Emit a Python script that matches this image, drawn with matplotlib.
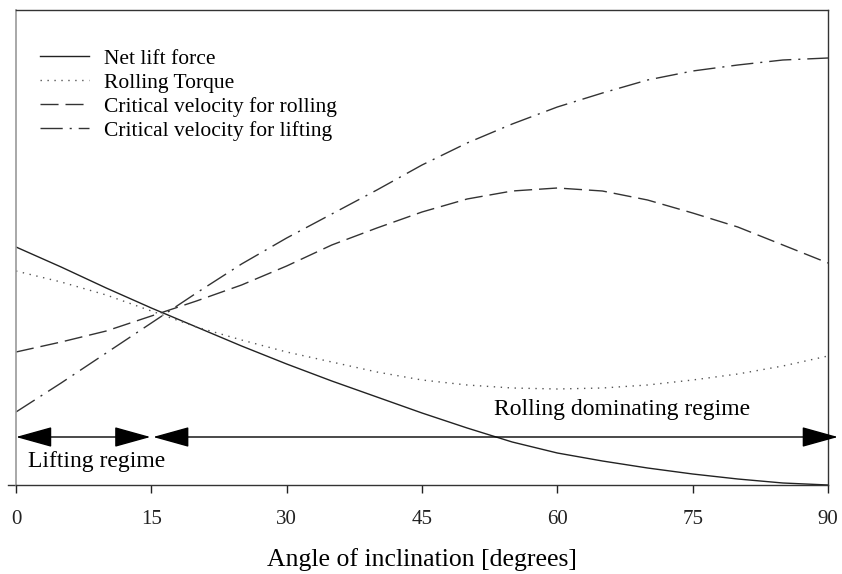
import matplotlib.pyplot as plt

plt.rcParams['font.family'] = ['Liberation Serif', 'DejaVu Serif']

# angle of inclination [degrees]
angle = [0, 5, 10, 15, 20, 25, 30, 35, 40, 45, 50, 55, 60, 65, 70, 75, 80, 85, 90]

# relative magnitudes (no y scale in the original)
net_lift = [238, 218, 197, 177, 158, 139, 121, 104, 88, 72, 57, 43, 32, 24, 17, 11, 6, 2, 0]
rolling_torque = [214, 203, 190, 174, 158, 145, 133, 123, 113, 105, 100, 97, 96, 97, 100, 105, 111, 119, 129]
vcrit_rolling = [133, 143, 154, 169, 184, 200, 219, 240, 257, 273, 286, 294, 297, 294, 285, 272, 258, 240, 222]
vcrit_lifting = [73, 102, 132, 162, 192, 221, 247, 271, 295, 320, 342, 361, 378, 392, 405, 414, 420, 425, 427]

xticks = [0, 15, 30, 45, 60, 75, 90]
regime_split = 15
arrow_level = 48

fig = plt.figure(figsize=(8.42, 5.74), dpi=100)
ax = fig.add_axes([16/842, 1-485/574, 812/842, 475/574])

ax.plot(angle, net_lift, color='#222222', lw=1.0, label='Net lift force')
ax.plot(angle, rolling_torque, color='#555555', lw=1.0, linestyle=(0, (1, 4)), label='Rolling Torque')
ax.plot(angle, vcrit_rolling, color='#333333', lw=1.0, linestyle=(0, (13, 5)), label='Critical velocity for rolling')
ax.plot(angle, vcrit_lifting, color='#333333', lw=1.0, linestyle=(0, (16, 5, 1.5, 5)), label='Critical velocity for lifting')

ax.set_xlim(0, 90)
ax.set_ylim(0, 475)
ax.set_yticks([])
ax.set_xticks(xticks)
ax.tick_params(axis='x', direction='out', length=6, width=1, pad=12, labelsize=15, colors='#222222')
ax.set_xlabel('Angle of inclination [degrees]', fontsize=18.5, labelpad=14)

for s in ['top', 'right', 'bottom']:
    ax.spines[s].set_color('#333333')
    ax.spines[s].set_linewidth(1.0)
ax.spines['left'].set_color('#999999')
ax.spines['left'].set_linewidth(1.2)
# bottom axis line runs a little past the left axis
ax.plot([-0.01, 0], [0, 0], transform=ax.transAxes, color='#333333', lw=1.0, clip_on=False)

# regime arrows
arrow_kw = dict(arrowstyle='<|-|>,head_length=1.15,head_width=0.32', color='black', lw=1.0,
                mutation_scale=20, shrinkA=0, shrinkB=0)
ax.annotate('', xy=(regime_split - 0.1, arrow_level), xytext=(0, arrow_level),
            arrowprops=arrow_kw, annotation_clip=False)
ax.annotate('', xy=(91.1, arrow_level), xytext=(regime_split + 0.2, arrow_level),
            arrowprops=arrow_kw, annotation_clip=False)
ax.text(1.3, 24, 'Lifting regime', fontsize=17, va='center', ha='left')
ax.text(53, 75, 'Rolling dominating regime', fontsize=17, va='center', ha='left')

leg = ax.legend(loc='upper left', bbox_to_anchor=(0.0, 0.968), frameon=False, fontsize=15.5,
                handlelength=2.3, handletextpad=0.7, labelspacing=0.18, borderaxespad=0.7)

fig.savefig('out.png', dpi=100)
